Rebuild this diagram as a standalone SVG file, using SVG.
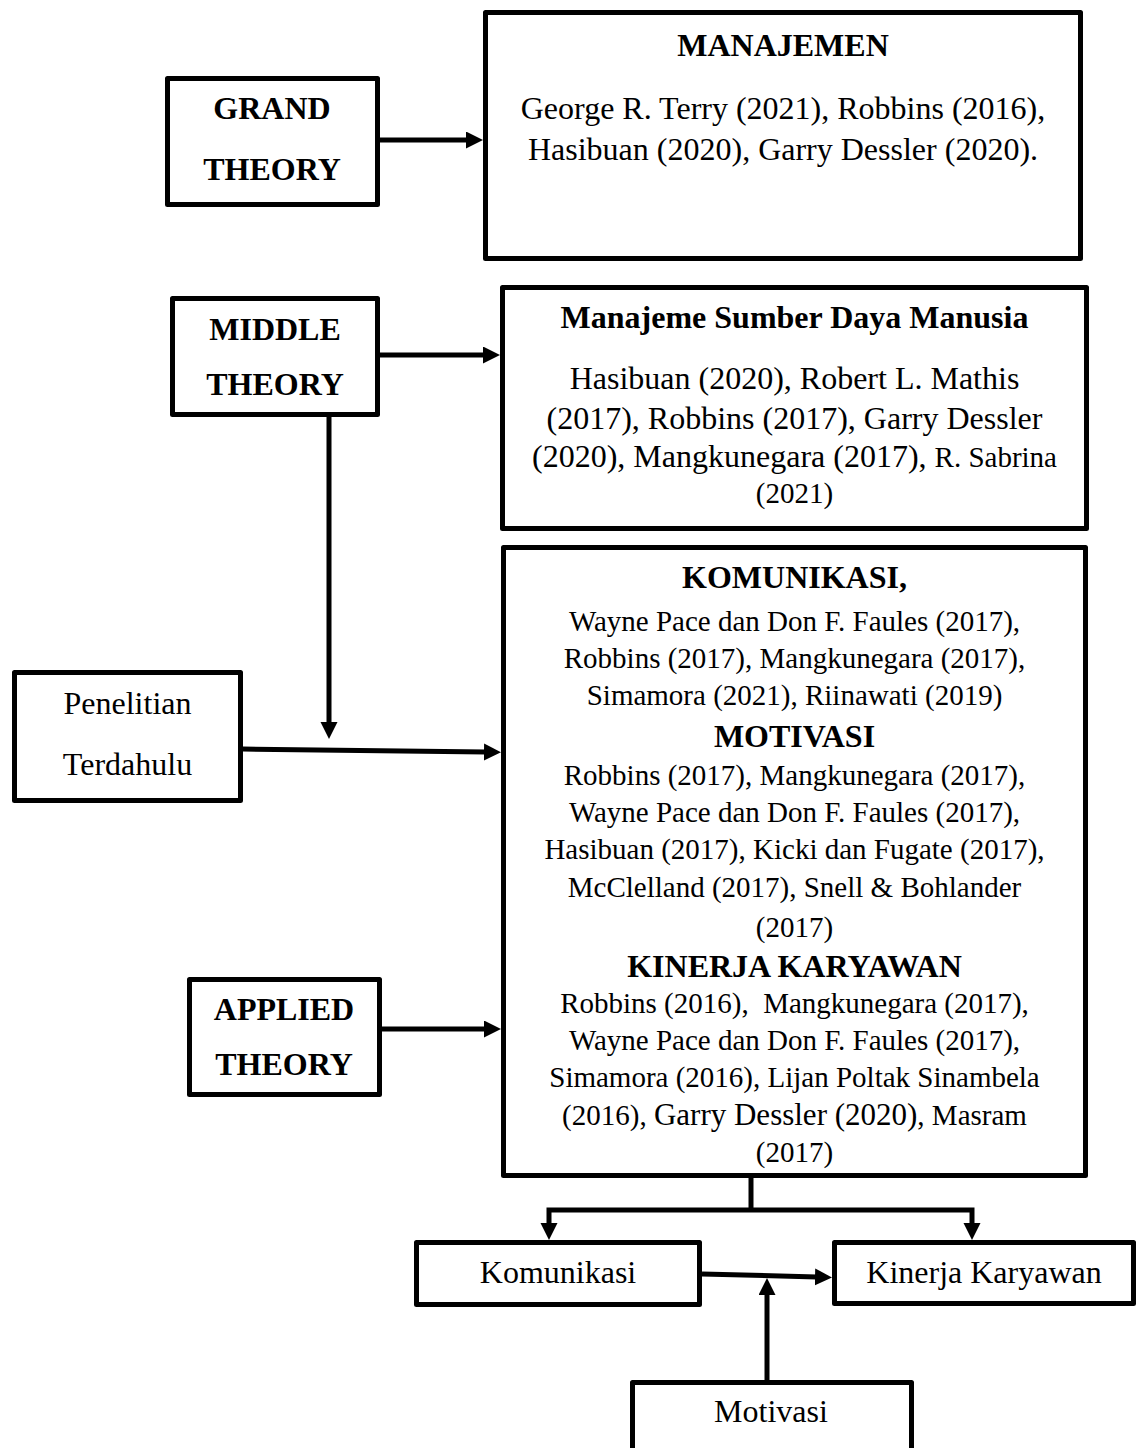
<svg xmlns="http://www.w3.org/2000/svg" width="1138" height="1448" viewBox="0 0 1138 1448">
<style>
.box{fill:#fff;stroke:#000;stroke-width:5;stroke-linejoin:round}
.t{font-family:"Liberation Serif","Times New Roman",serif;fill:#000;text-anchor:middle;white-space:pre}
.b{font-weight:bold;font-size:32px}
.r32{font-size:32px}
.r29{font-size:29px}
.c{fill:none;stroke:#000;stroke-width:5}
</style>
<defs>
<marker id="ah" markerUnits="userSpaceOnUse" markerWidth="18" markerHeight="18" refX="2" refY="8.5" orient="auto">
<path d="M0,0 L17,8.5 L0,17 z" fill="#000"/>
</marker>
</defs>
<rect width="1138" height="1448" fill="#fff"/>
<g id="connectors">
<path class="c" d="M380,140 H468" marker-end="url(#ah)"/>
<path class="c" d="M380,355 H485" marker-end="url(#ah)"/>
<path class="c" d="M329,417 V724" marker-end="url(#ah)"/>
<path class="c" d="M243,749 L486,752" marker-end="url(#ah)"/>
<path class="c" d="M382,1029 H486" marker-end="url(#ah)"/>
<path class="c" d="M751,1178 V1210"/>
<path class="c" d="M751,1210 H549 V1225" marker-end="url(#ah)"/>
<path class="c" d="M751,1210 H972 V1225" marker-end="url(#ah)"/>
<path class="c" d="M702,1274 L817,1277" marker-end="url(#ah)"/>
<path class="c" d="M767,1380 V1293" marker-end="url(#ah)"/>
</g>
<g id="grand-theory">
<rect class="box" x="167.5" y="78.5" width="210" height="126"/>
<text class="t b" x="272" y="119">GRAND</text>
<text class="t b" x="272" y="180">THEORY</text>
</g>
<g id="manajemen">
<rect class="box" x="485.5" y="12.5" width="595" height="246"/>
<text class="t b" x="783" y="56">MANAJEMEN</text>
<text class="t r32" x="783" y="119">George R. Terry (2021), Robbins (2016),</text>
<text class="t r32" x="783" y="160">Hasibuan (2020), Garry Dessler (2020).</text>
</g>
<g id="middle-theory">
<rect class="box" x="172.5" y="298.5" width="205" height="116"/>
<text class="t b" x="275" y="340">MIDDLE</text>
<text class="t b" x="275" y="395">THEORY</text>
</g>
<g id="msdm">
<rect class="box" x="502.5" y="287.5" width="584" height="241"/>
<text class="t b" x="794.5" y="328">Manajeme Sumber Daya Manusia</text>
<text class="t r32" x="794.5" y="389">Hasibuan (2020), Robert L. Mathis</text>
<text class="t r32" x="794.5" y="429">(2017), Robbins (2017), Garry Dessler</text>
<text class="t r32" x="794.5" y="467">(2020), Mangkunegara (2017), <tspan font-size="29">R. Sabrina</tspan></text>
<text class="t r29" x="794.5" y="503">(2021)</text>
</g>
<g id="penelitian-terdahulu">
<rect class="box" x="14.5" y="672.5" width="226" height="128"/>
<text class="t r32" x="127.5" y="714">Penelitian</text>
<text class="t r32" x="127.5" y="775">Terdahulu</text>
</g>
<g id="applied-box">
<rect class="box" x="503.5" y="547.5" width="582" height="628"/>
<text class="t b" x="794.5" y="588">KOMUNIKASI,</text>
<text class="t r29" x="794.5" y="631">Wayne Pace dan Don F. Faules (2017),</text>
<text class="t r29" x="794.5" y="668">Robbins (2017), Mangkunegara (2017),</text>
<text class="t r29" x="794.5" y="705">Simamora (2021), Riinawati (2019)</text>
<text class="t b" x="794.5" y="747">MOTIVASI</text>
<text class="t r29" x="794.5" y="785">Robbins (2017), Mangkunegara (2017),</text>
<text class="t r29" x="794.5" y="822">Wayne Pace dan Don F. Faules (2017),</text>
<text class="t r29" x="794.5" y="859">Hasibuan (2017), Kicki dan Fugate (2017),</text>
<text class="t r29" x="794.5" y="897">McClelland (2017), Snell &amp; Bohlander</text>
<text class="t r29" x="794.5" y="937">(2017)</text>
<text class="t b" x="794.5" y="977">KINERJA KARYAWAN</text>
<text class="t r29" x="794.5" y="1013">Robbins (2016),  Mangkunegara (2017),</text>
<text class="t r29" x="794.5" y="1050">Wayne Pace dan Don F. Faules (2017),</text>
<text class="t r29" x="794.5" y="1087">Simamora (2016), Lijan Poltak Sinambela</text>
<text class="t r29" x="794.5" y="1125">(2016), <tspan font-size="31">Garry Dessler (2020)</tspan>, Masram</text>
<text class="t r29" x="794.5" y="1162">(2017)</text>
</g>
<g id="applied-theory">
<rect class="box" x="189.5" y="979.5" width="190" height="115"/>
<text class="t b" x="284" y="1020">APPLIED</text>
<text class="t b" x="284" y="1075">THEORY</text>
</g>
<g id="komunikasi">
<rect class="box" x="416.5" y="1242.5" width="283" height="62"/>
<text class="t r32" x="558" y="1283">Komunikasi</text>
</g>
<g id="kinerja-karyawan">
<rect class="box" x="834.5" y="1242.5" width="299" height="61"/>
<text class="t r32" x="984" y="1283">Kinerja Karyawan</text>
</g>
<g id="motivasi">
<rect class="box" x="632.5" y="1382.5" width="279" height="90"/>
<text class="t r32" x="771" y="1422">Motivasi</text>
</g>
</svg>
